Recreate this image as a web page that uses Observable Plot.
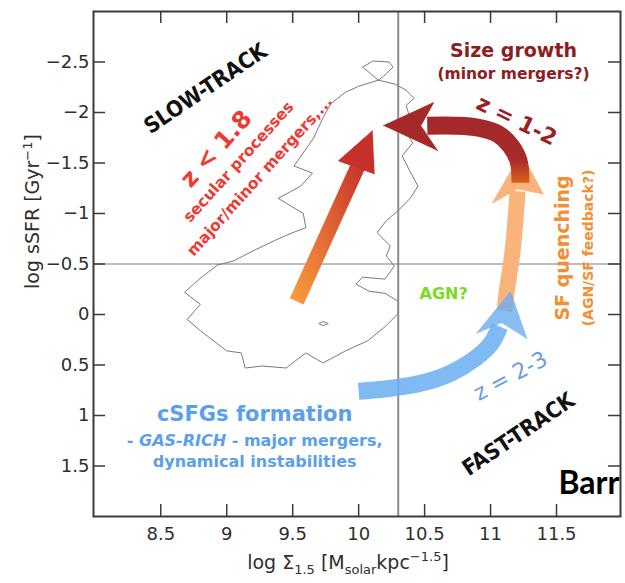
<!DOCTYPE html>
<html><head><meta charset="utf-8">
<script src="https://cdn.jsdelivr.net/npm/d3@7"></script>
<script src="https://cdn.jsdelivr.net/npm/@observablehq/plot@0.6"></script>
<style>body{margin:0;background:#fff;} svg{display:block}</style>
</head><body><div id="chart"></div>
<script>
// ---- axes ----
const xTicks = [8.5, 9, 9.5, 10, 10.5, 11, 11.5];
const yTicks = [-2.5, -2, -1.5, -1, -0.5, 0, 0.5, 1, 1.5];
const xDomain = [7.99, 11.985];
const yDomain = [-3, 2];
const refX = [10.3];
const refY = [-0.5];

// ---- gray contour (x, y) ----
const contourMain = [[10.15,-2.32],[10.03,-2.45],[10.11,-2.51],[10.23,-2.50],[10.26,-2.45],[10.19,-2.36],[10.15,-2.32],[10.28,-2.28],[10.36,-2.22],[10.42,-2.14],[10.36,-2.07],[10.39,-1.94],[10.35,-1.82],[10.41,-1.70],[10.33,-1.57],[10.38,-1.44],[10.45,-1.27],[10.39,-1.15],[10.30,-1.03],[10.21,-0.93],[10.14,-0.81],[10.24,-0.68],[10.21,-0.58],[10.27,-0.48],[10.20,-0.35],[10.03,-0.37],[9.98,-0.30],[10.08,-0.23],[10.20,-0.21],[10.30,-0.13],[10.30,-0.01],[10.20,0.12],[10.07,0.26],[9.90,0.36],[9.73,0.48],[9.60,0.38],[9.45,0.53],[9.27,0.51],[9.14,0.53],[9.11,0.38],[9.00,0.36],[8.80,0.16],[8.70,0.05],[8.80,-0.10],[8.68,-0.22],[8.80,-0.36],[8.93,-0.49],[9.05,-0.53],[9.20,-0.63],[9.36,-0.73],[9.48,-0.80],[9.60,-0.86],[9.58,-1.00],[9.39,-1.15],[9.56,-1.27],[9.65,-1.40],[9.51,-1.47],[9.66,-1.75],[9.73,-1.95],[9.79,-2.09],[9.90,-2.20],[10.00,-2.26],[10.15,-2.32]];
const contourIsland = [[9.70,0.09],[9.73,0.07],[9.77,0.09],[9.73,0.11],[9.70,0.09]];

// ---- arrows: shaft centre lines and heads (x, y) ----
const arrowAShaft = [[9.53,-0.13],[10.03,-1.57]];
const arrowAHead = [[10.106,-1.819],[9.848,-1.522],[10.121,-1.393]];
const arrowBShaft = [[11.227,-1.304],[11.212,-1.522],[11.152,-1.671],[11.053,-1.790],[10.909,-1.849],[10.735,-1.869],[10.52,-1.869]];
const arrowBHead = [[10.189,-1.869],[10.568,-2.097],[10.47,-1.869],[10.598,-1.621]];
const arrowCShaft = [[11.106,-0.034],[11.121,-0.212],[11.167,-0.629],[11.197,-1.075],[11.205,-1.22]];
const arrowCHead = [[11.235,-1.601],[11.015,-1.105],[11.205,-1.244],[11.402,-1.194]];
const arrowDShaft = [[10.0,0.760],[10.242,0.730],[10.470,0.681],[10.697,0.581],[10.886,0.433],[11.0,0.294],[11.07,0.12]];
const arrowDHead = [[11.152,-0.232],[10.886,0.194],[11.083,0.085],[11.280,0.244]];

// ---- annotations ----
const trackLabels = [
  {x: 8.84, y: -2.236, t: "SLOW-TRACK"},
  {x: 11.212, y: 1.187, t: "FAST-TRACK"}
];
const redLabels = [
  {x: 8.92, y: -1.64, t: "z < 1.8", s: 24},
  {x: 9.09, y: -1.51, t: "secular processes", s: 15.5},
  {x: 9.25, y: -1.37, t: "major/minor mergers,...", s: 15.5}
];
const sizeLabels = [
  {x: 11.174, y: -2.613, t: "Size growth", s: 19},
  {x: 11.174, y: -2.385, t: "(minor mergers?)", s: 15.5}
];
const z12 = [{x: 11.197, y: -1.919, t: "z = 1-2"}];
const sfLabels = [
  {x: 11.545, y: -0.659, t: "SF quenching", s: 19},
  {x: 11.742, y: -0.659, t: "(AGN/SF feedback?)", s: 14}
];
const agnLabel = [{x: 10.644, y: -0.202, t: "AGN?"}];
const z23 = [{x: 11.152, y: 0.611, t: "z = 2-3"}];
const blueLabels = [
  {x: 9.212, y: 0.988, t: "cSFGs formation", s: 21},
  {x: 9.212, y: 1.256, t: "- GAS-RICH - major mergers,", s: 16},
  {x: 9.212, y: 1.464, t: "dynamical instabilities", s: 16}
];
const cornerLabel = [{x: 11.515, y: 1.673, t: "Barr"}];

const fmt = d => (d < 0 ? "\u2212" : "") + Math.abs(d);
const W = 625, H = 583, mL = 93, mR = 5, mT = 11, mB = 67;
const plotW = W - mL - mR, plotH = H - mT - mB, tickLen = 12;
const XY = {x: d => d[0], y: d => d[1]};
const FONT = "DejaVu Sans, Liberation Sans, sans-serif";
const COND = "DejaVu Sans Condensed, Liberation Sans Narrow, DejaVu Sans, sans-serif";

const defs = () => {
  const d = d3.create("svg:defs");
  const gA = d.append("linearGradient").attr("id", "gradA").attr("x1", 0).attr("y1", 1).attr("x2", 1).attr("y2", 0);
  gA.append("stop").attr("offset", 0).attr("stop-color", "#f89a3c");
  gA.append("stop").attr("offset", 1).attr("stop-color", "#c6302b");
  const gB = d.append("linearGradient").attr("id", "gradB").attr("x1", 0).attr("y1", 0).attr("x2", 0).attr("y2", 1);
  gB.append("stop").attr("offset", 0).attr("stop-color", "#a5292a");
  gB.append("stop").attr("offset", 0.6).attr("stop-color", "#a92b28");
  gB.append("stop").attr("offset", 1).attr("stop-color", "#d9621e");
  return d.node();
};

const chart = Plot.plot({
  width: W, height: H,
  marginLeft: mL, marginRight: mR, marginTop: mT, marginBottom: mB,
  x: {domain: xDomain},
  y: {domain: yDomain, reverse: true},
  style: {fontFamily: FONT, fontSize: "18px", color: "#2e2e2e", background: "#fff"},
  marks: [
    defs,
    Plot.line(contourMain, {...XY, stroke: "#7a7a7a", strokeWidth: 1, curve: "linear"}),
    Plot.line(contourIsland, {...XY, stroke: "#7a7a7a", strokeWidth: 1}),
    Plot.ruleX(refX, {stroke: "#8c8c8c", strokeWidth: 2}),
    Plot.ruleY(refY, {stroke: "#7a7a7a", strokeWidth: 1}),
    // arrow C (peach)
    Plot.line(arrowCShaft, {...XY, stroke: "#f9b47c", strokeWidth: 16, strokeLinecap: "butt", curve: "catmull-rom"}),
    Plot.line(arrowCHead, {...XY, fill: "#f9b47c", stroke: "#f9b47c", strokeWidth: 1}),
    // arrow D (blue)
    Plot.line(arrowDShaft, {...XY, stroke: "#6aaef0", strokeOpacity: 0.85, strokeWidth: 17, strokeLinecap: "butt", curve: "catmull-rom"}),
    Plot.line(arrowDHead, {...XY, fill: "#6aaef0", fillOpacity: 0.8, stroke: "none"}),
    // arrow A (orange -> red)
    Plot.line(arrowAShaft, {...XY, stroke: "url(#gradA)", strokeWidth: 15, strokeLinecap: "butt"}),
    Plot.line(arrowAHead, {...XY, fill: "#c6302b", stroke: "#c6302b", strokeWidth: 1}),
    // arrow B (dark red, curved)
    Plot.line(arrowBShaft, {...XY, stroke: "url(#gradB)", strokeWidth: 18, strokeLinecap: "butt", curve: "catmull-rom"}),
    Plot.line(arrowBHead, {...XY, fill: "#a6292a", stroke: "#a6292a", strokeWidth: 1}),
    // frame, inward ticks, axes
    Plot.frame({stroke: "#3a3a3a", strokeWidth: 2}),
    Plot.ruleY(yTicks, {y: d => d, insetRight: plotW - tickLen, stroke: "#3a3a3a", strokeWidth: 1.5}),
    Plot.ruleY(yTicks, {y: d => d, insetLeft: plotW - tickLen, stroke: "#3a3a3a", strokeWidth: 1.5}),
    Plot.ruleX(xTicks, {x: d => d, insetBottom: plotH - tickLen, stroke: "#3a3a3a", strokeWidth: 1.5}),
    Plot.ruleX(xTicks, {x: d => d, insetTop: plotH - tickLen, stroke: "#3a3a3a", strokeWidth: 1.5}),
    Plot.axisX({ticks: xTicks, tickFormat: fmt, tickSize: 0, tickPadding: 11, label: null}),
    Plot.axisY({ticks: yTicks, tickFormat: fmt, tickSize: 0, tickPadding: 4, label: null}),
    Plot.text(["XLABEL"], {frameAnchor: "bottom", dx: -9, dy: 46, lineAnchor: "middle", fontSize: 19, fill: "#2e2e2e"}),
    Plot.text(["YLABEL"], {frameAnchor: "left", dx: -61, dy: 25, rotate: -90, lineAnchor: "middle", fontSize: 19, fill: "#2e2e2e"}),
    // annotations
    Plot.text(trackLabels, {x: "x", y: "y", text: "t", rotate: -34, fontFamily: COND, fontWeight: "bold", fontSize: 22, fill: "#111", lineAnchor: "middle"}),
    Plot.text(redLabels, {x: "x", y: "y", text: "t", fontSize: "s", rotate: -48, fontWeight: "bold", fill: "#ee3a34", lineAnchor: "middle"}),
    Plot.text(sizeLabels, {x: "x", y: "y", text: "t", fontSize: "s", fontWeight: "bold", fill: "#8c1d20", lineAnchor: "middle"}),
    Plot.text(z12, {x: "x", y: "y", text: "t", fontSize: 22, rotate: 26, fontWeight: "bold", fill: "#9a2024", lineAnchor: "middle"}),
    Plot.text(sfLabels, {x: "x", y: "y", text: "t", fontSize: "s", rotate: -90, fontWeight: "bold", fill: "#f28f33", lineAnchor: "middle"}),
    Plot.text(agnLabel, {x: "x", y: "y", text: "t", fontSize: 16, fontWeight: "bold", fill: "#78dc1e", lineAnchor: "middle"}),
    Plot.text(z23, {x: "x", y: "y", text: "t", fontSize: 22, rotate: -28, fill: "#6a9ce2", lineAnchor: "middle"}),
    Plot.text(blueLabels, {x: "x", y: "y", text: "t", fontSize: "s", fontWeight: "bold", fill: "#5aa0ea", lineAnchor: "middle"}),
    Plot.text(cornerLabel, {x: "x", y: "y", text: "t", textAnchor: "start", fontFamily: "Lato, Open Sans, sans-serif", fontWeight: "bold", fontSize: 32, fill: "#000", lineAnchor: "middle"})
  ]
});
document.getElementById("chart").append(chart);

function replaceText(key, html) {
  for (const t of chart.querySelectorAll("text")) if (t.textContent === key) t.innerHTML = html;
}
replaceText("XLABEL", 'log \u03A3<tspan dy="5" font-size="13">1.5</tspan><tspan dy="-5"> [M</tspan><tspan dy="5" font-size="13">solar</tspan><tspan dy="-5">kpc</tspan><tspan dy="-8" font-size="13">\u22121.5</tspan><tspan dy="8">]</tspan>');
replaceText("YLABEL", 'log sSFR [Gyr<tspan dy="-7" font-size="13">\u22121</tspan><tspan dy="7">]</tspan>');
replaceText("- GAS-RICH - major mergers,", '- <tspan font-style="italic">GAS-RICH</tspan> - major mergers,');
</script>
</body></html>
